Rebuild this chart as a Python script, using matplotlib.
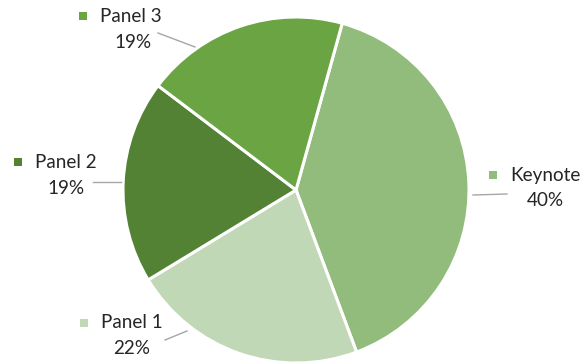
import matplotlib.pyplot as plt
from matplotlib.patches import Rectangle

# session share by type
sessions = ['Keynote', 'Panel 1', 'Panel 2', 'Panel 3']
share = [40, 22, 19, 19]
colors = ['#92BC7B', '#C0D8B5', '#548235', '#6AA443']

# label anchors in pixels (y measured from the top): name, percent, leader line
name_pos = {'Keynote': (510, 175), 'Panel 1': (101, 323), 'Panel 2': (35, 162), 'Panel 3': (100, 16)}
pct_pos = {'Keynote': (545, 200), 'Panel 1': (132, 349), 'Panel 2': (66, 188), 'Panel 3': (133, 42)}
leaders = {'Keynote': ((473, 195), (507, 194)), 'Panel 1': ((165, 340), (187, 331)),
           'Panel 2': ((93, 182), (121, 182)), 'Panel 3': ((158, 33), (195, 47))}

W, H = 587, 364
fig = plt.figure(figsize=(W / 100, H / 100), dpi=100)
ax = fig.add_axes([0, 0, 1, 1])

ax.pie(share, colors=colors, startangle=74.5, counterclock=False,
       center=(296, H - 190), radius=173, frame=True,
       wedgeprops=dict(edgecolor='white', linewidth=2.2))
ax.set_xlim(0, W)
ax.set_ylim(0, H)
ax.axis('off')

font = dict(family=['Lato', 'DejaVu Sans'], fontsize=13.6, color='#262626')
for name, val, col in zip(sessions, share, colors):
    nx, ny = name_pos[name]
    ax.text(nx, H - ny, name, ha='left', va='center', **font)
    ax.add_patch(Rectangle((nx - 21, H - ny - 4), 8, 8, color=col, lw=0))
    px, py = pct_pos[name]
    ax.text(px, H - py, f'{val}%', ha='center', va='center', **font)
    (x0, y0), (x1, y1) = leaders[name]
    ax.plot([x0, x1], [H - y0, H - y1], color='#A6A6A6', lw=1)

fig.savefig('out.png', dpi=100)
